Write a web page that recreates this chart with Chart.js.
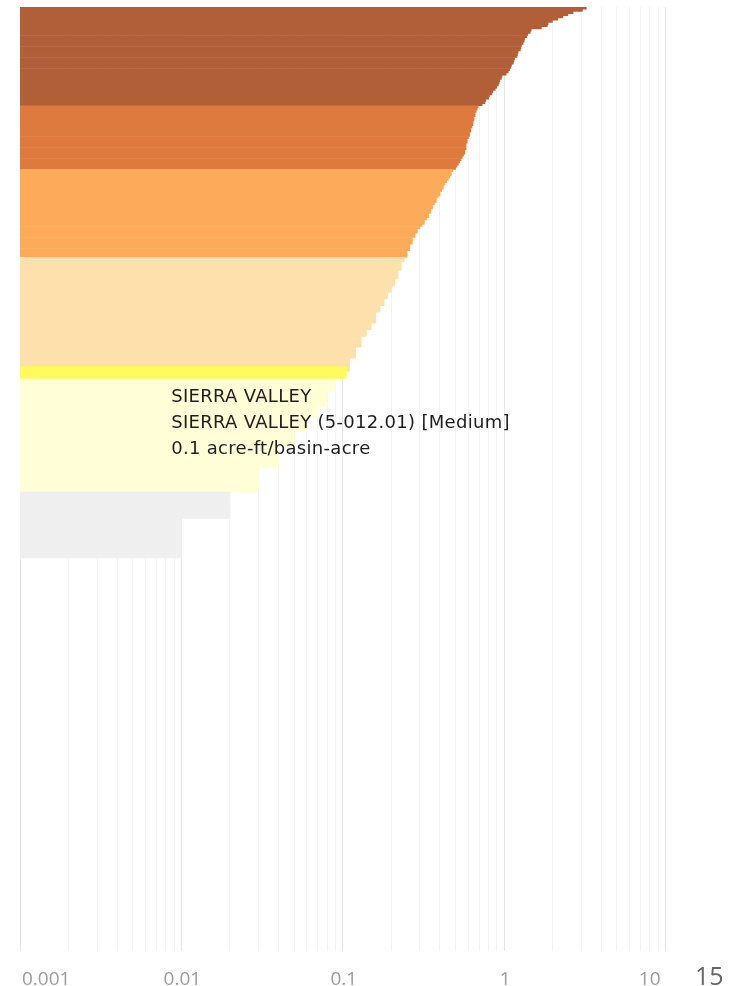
<!DOCTYPE html>
<html lang="en">

<head>
  <meta charset="utf-8">
  <style>
    body {
      margin: 0;
      background-color: #ffffff;
    }

    .chart-wrap {
      position: relative;
      width: 735px;
      height: 986px;
    }
  </style>
</head>

<body>
  <div class="chart-wrap">
    <canvas id="basinChart"></canvas>
  </div>

  <script src="https://cdn.jsdelivr.net/npm/chart.js"></script>
  <script>
    /* ------------------------------------------------ */
    // values in acre-ft/basin-acre, sorted high to low, one list per colour band

    const veryHighValues = [
      3.23, 3.05, 2.67, 2.48, 2.31, 2.15, 1.99, 1.87, 1.85, 1.70,
      1.47, 1.45, 1.40, 1.38, 1.34, 1.33, 1.31, 1.28, 1.27, 1.26,
      1.22, 1.21, 1.20, 1.16, 1.15, 1.14, 1.11, 1.10, 1.08, 1.06,
      1.03, 0.97, 0.96, 0.94, 0.93, 0.92, 0.90, 0.88, 0.85, 0.84,
      0.81, 0.80, 0.77, 0.76, 0.73
    ];

    const highValues = [
      0.69, 0.68, 0.67, 0.66, 0.66, 0.65, 0.65, 0.64, 0.64, 0.63,
      0.62, 0.62, 0.61, 0.61, 0.60, 0.59, 0.59, 0.58, 0.58, 0.58,
      0.57, 0.57, 0.56, 0.55, 0.54, 0.53, 0.52, 0.51, 0.50
    ];

    const mediumHighValues = [
      0.48, 0.47, 0.47, 0.46, 0.45, 0.44, 0.43, 0.42, 0.42, 0.41,
      0.40, 0.40, 0.39, 0.38, 0.38, 0.37, 0.36, 0.36, 0.35, 0.35,
      0.34, 0.34, 0.33, 0.32, 0.32, 0.31, 0.30, 0.29, 0.29, 0.28,
      0.28, 0.27, 0.27, 0.27, 0.26, 0.26, 0.26, 0.25, 0.25, 0.25
    ];

    const mediumValues = [
      0.24, 0.24, 0.23, 0.23, 0.23, 0.23, 0.22, 0.22, 0.22, 0.22,
      0.21, 0.21, 0.21, 0.20, 0.20, 0.20, 0.19, 0.19, 0.19, 0.18,
      0.18, 0.18, 0.17, 0.17, 0.17, 0.16, 0.16, 0.16, 0.16, 0.16,
      0.15, 0.15, 0.15, 0.14, 0.14, 0.14, 0.13, 0.13, 0.13, 0.13,
      0.13, 0.12, 0.12, 0.12, 0.12, 0.12, 0.11, 0.11, 0.11, 0.11,
      0.11, 0.11
    ];

    // first entry is SIERRA VALLEY
    const lowValues = [
      0.105, 0.10, 0.10,
      0.09, 0.09, 0.09, 0.09, 0.09, 0.09,
      0.08, 0.08, 0.08, 0.08, 0.08, 0.08, 0.08,
      0.07, 0.07, 0.07, 0.07, 0.07,
      0.06, 0.06, 0.06, 0.06, 0.06, 0.06,
      0.05, 0.05, 0.05, 0.05, 0.05, 0.05, 0.05,
      0.04, 0.04, 0.04, 0.04, 0.04, 0.04, 0.04, 0.04, 0.04, 0.04,
      0.03, 0.03, 0.03, 0.03, 0.03, 0.03, 0.03, 0.03, 0.03, 0.03, 0.03
    ];

    const veryLowValues = [
      0.02, 0.02, 0.02, 0.02, 0.02, 0.02, 0.02, 0.02, 0.02, 0.02, 0.02, 0.02,
      0.01, 0.01, 0.01, 0.01, 0.01, 0.01, 0.01, 0.01, 0.01,
      0.01, 0.01, 0.01, 0.01, 0.01, 0.01, 0.01, 0.01, 0.01
    ];

    const noDataCount = 179;   // basins listed without a value

    const bandValues = [veryHighValues, highValues, mediumHighValues, mediumValues, lowValues, veryLowValues];
    const bandColors = ['#b05f38', '#df7a3e', '#fdab5a', '#fde0ac', '#fffed6', '#efefef'];

    const selectedName = 'SIERRA VALLEY';
    const selectedLines = ['SIERRA VALLEY', 'SIERRA VALLEY (5-012.01) [Medium]', '0.1 acre-ft/basin-acre'];
    const selectedColor = '#fffb5e';

    const tickValues = [0.001, 0.01, 0.1, 1, 10];
    const tickLabels = ['0.001', '0.01', '0.1', '1', '10'];
    const axisMin = 0.001;
    const axisMax = 15;
    const maxLabel = '15';

    /* ------------------------------------------------ */

    let values = [];
    let colors = [];
    bandValues.forEach((band, b) => {
      band.forEach(v => {
        values.push(v);
        colors.push(bandColors[b]);
      });
    });
    for (let i = 0; i < noDataCount; i++) {
      values.push(null);
      colors.push('#ffffff');
    }

    const selectedIndex = veryHighValues.length + highValues.length + mediumHighValues.length + mediumValues.length;
    const selectedData = values.map((v, i) => i == selectedIndex ? v : null);
    const labels = values.map((v, i) => i == selectedIndex ? selectedName : 'basin ' + (i + 1));

    /* ------------------------------------------------ */

    const axisText = {
      id: 'axisText',
      afterDraw(chart) {
        const ctx = chart.ctx;
        const xs = chart.scales.x;
        ctx.save();
        ctx.textBaseline = 'alphabetic';

        ctx.font = '19px "Open Sans"';
        ctx.fillStyle = '#9b9b9b';
        tickValues.forEach((v, i) => {
          const px = xs.getPixelForValue(v);
          if (i == 0) {
            ctx.textAlign = 'left';
            ctx.fillText(tickLabels[i], px + 2, 985);
          } else if (i == tickValues.length - 1) {
            ctx.textAlign = 'right';
            ctx.fillText(tickLabels[i], px - 5, 985);
          } else {
            ctx.textAlign = 'center';
            ctx.fillText(tickLabels[i], px + 1, 985);
          }
        });

        ctx.font = '25px "Open Sans"';
        ctx.fillStyle = '#666666';
        ctx.textAlign = 'left';
        ctx.fillText(maxLabel, xs.getPixelForValue(axisMax) + 1, 985);

        // hover label for the selected basin
        const bar = chart.getDatasetMeta(0).data[selectedIndex];
        ctx.font = '18px "DejaVu Sans"';
        ctx.letterSpacing = '0.3px';
        ctx.fillStyle = '#1e1e1e';
        selectedLines.forEach((line, i) => {
          ctx.fillText(line, bar.x - 175, bar.y + 29 + i * 26);
        });
        ctx.restore();
      }
    };

    const ctx = document.getElementById('basinChart').getContext('2d');
    const chart = new Chart(ctx, {
      type: 'bar',
      data: {
        labels: labels,
        datasets: [
          {
            label: 'selected',
            data: selectedData,
            backgroundColor: selectedColor,
            barThickness: 12,
            grouped: false,
            order: 0
          },
          {
            label: 'acre-ft/basin-acre',
            data: values,
            backgroundColor: colors,
            categoryPercentage: 1,
            barPercentage: 1,
            grouped: false,
            order: 1
          }
        ]
      },
      plugins: [axisText],
      options: {
        indexAxis: 'y',
        responsive: true,
        maintainAspectRatio: false,
        animation: false,
        layout: {
          padding: { left: 20, right: 41, top: 7, bottom: 35 }
        },
        scales: {
          x: {
            type: 'logarithmic',
            min: axisMin,
            max: axisMax,
            z: 1,
            border: { display: false },
            grid: {
              drawTicks: false,
              color: (c) => {
                const v = c.tick ? c.tick.value : 0;
                return Math.abs(Math.log10(v) - Math.round(Math.log10(v))) < 1e-6 ? 'rgba(0,0,0,0.10)' : 'rgba(0,0,0,0.05)';
              }
            },
            ticks: { display: false },
            afterBuildTicks: (scale) => {
              // plain 1..9 steps per decade, no 1.5 steps
              scale.ticks = scale.ticks.filter(t => t.value <= 10 && Math.abs(t.value / Math.pow(10, Math.floor(Math.log10(t.value) + 1e-9)) - 1.5) > 1e-6);
            }
          },
          y: {
            display: false
          }
        },
        plugins: {
          legend: { display: false },
          tooltip: { enabled: false }
        }
      }
    });
  </script>
</body>

</html>
